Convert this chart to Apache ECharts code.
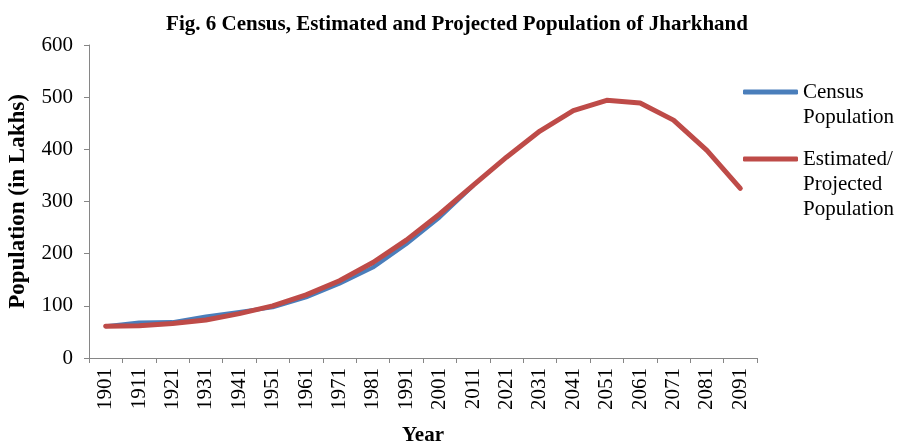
<!DOCTYPE html>
<html><head><meta charset="utf-8">
<script src="https://cdn.jsdelivr.net/npm/echarts@6/dist/echarts.min.js"></script>
<style>html,body{margin:0;padding:0;background:#fff}#c{width:898px;height:442px}</style>
</head><body><div id="c"></div>
<script>
var years = ['1901','1911','1921','1931','1941','1951','1961','1971','1981','1991','2001','2011','2021','2031','2041','2051','2061','2071','2081','2091'];
var censusPop = [61.0, 68.1, 68.8, 79.5, 88.2, 97.1, 116.1, 142.3, 173.5, 218.4, 269.5, 329.9];
var projectedPop = [61, 62, 66, 73, 85, 100, 121, 148, 183, 226, 276, 331, 385, 435, 474, 494, 489, 456, 398, 325];
var yTicks = [0, 100, 200, 300, 400, 500, 600];

var serif = '"Liberation Serif","Times New Roman",serif';
var chart = echarts.init(document.getElementById('c'));
chart.setOption({
  animation: false,
  title: {
    text: 'Fig. 6 Census, Estimated and Projected Population of Jharkhand',
    left: 452, textAlign: 'center', top: 9,
    textStyle: {fontFamily: serif, fontSize: 21, fontWeight: 'bold', color: '#000'}
  },
  legend: [
    {
      data: ['Census Population'],
      left: 743, top: 92 - 37.5, padding: 0, itemWidth: 55, itemHeight: 5, icon: 'roundRect',
      formatter: function(){ return ' \nCensus\nPopulation'; },
      textStyle: {fontFamily: serif, fontSize: 21, lineHeight: 25, color: '#000'}
    },
    {
      data: ['Estimated/Projected Population'],
      left: 743, top: 159 - 62.5, padding: 0, itemWidth: 55, itemHeight: 5, icon: 'roundRect',
      formatter: function(){ return ' \n \nEstimated/\nProjected\nPopulation'; },
      textStyle: {fontFamily: serif, fontSize: 21, lineHeight: 25, color: '#000'}
    }
  ],
  grid: {left: 89, right: 141, top: 45, bottom: 84, containLabel: false, outerBoundsMode: 'none'},
  xAxis: {
    type: 'category', data: years, boundaryGap: true,
    name: 'Year', nameLocation: 'middle', nameGap: 67,
    nameTextStyle: {fontFamily: serif, fontSize: 21, fontWeight: 'bold', color: '#000'},
    axisLine: {lineStyle: {color: '#868686', width: 1}},
    axisTick: {show: true, length: 5, alignWithLabel: false, lineStyle: {color: '#868686'}},
    axisLabel: {rotate: 90, margin: 10, fontFamily: serif, fontSize: 21, color: '#000', interval: 0}
  },
  yAxis: {
    type: 'value', min: 0, max: 600, interval: 100,
    name: 'Population (in Lakhs)', nameLocation: 'middle', nameGap: 59,
    nameTextStyle: {fontFamily: serif, fontSize: 23, fontWeight: 'bold', color: '#000'},
    axisLine: {show: true, lineStyle: {color: '#868686', width: 1}},
    axisTick: {show: true, length: 5, lineStyle: {color: '#868686'}},
    splitLine: {show: false},
    axisLabel: {margin: 16, fontFamily: serif, fontSize: 21, color: '#000',
      formatter: function(v){ return yTicks.indexOf(v) >= 0 ? String(v) : ''; }}
  },
  series: [
    {
      name: 'Census Population', type: 'line', data: censusPop, symbol: 'none',
      lineStyle: {color: '#4a7ebb', width: 4, cap: 'round', join: 'round'},
      itemStyle: {color: '#4a7ebb'}
    },
    {
      name: 'Estimated/Projected Population', type: 'line', data: projectedPop, symbol: 'none',
      lineStyle: {color: '#be4b48', width: 5, cap: 'round', join: 'round'},
      itemStyle: {color: '#be4b48'}
    }
  ]
});
</script></body></html>
